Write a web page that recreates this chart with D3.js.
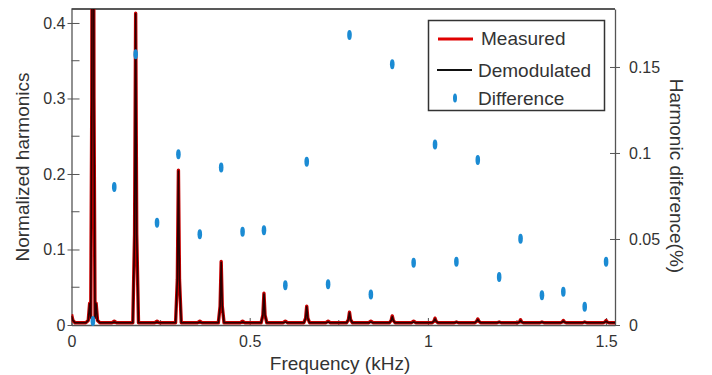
<!DOCTYPE html>
<html><head><meta charset="utf-8">
<script src="https://cdn.jsdelivr.net/npm/d3@7"></script>
<style>body{margin:0;background:#fff}svg{display:block}text{font-family:"Liberation Sans",Arial,sans-serif;fill:#333}</style>
</head><body>
<svg id="c" width="712" height="375"></svg>
<script>
// Spectrum (frequency in kHz, normalized amplitude)
const spectrumFreq = [0,0.004,0.010,0.040,0.047,0.051,0.054,0.057,0.0595,0.0605,0.063,0.066,0.069,0.073,0.080,
 0.114,0.120,0.126, 0.172,0.177,0.180,0.183,0.188, 0.234,0.240,0.246, 0.292,0.297,0.300,0.303,0.308,
 0.354,0.360,0.366, 0.412,0.417,0.420,0.423,0.428, 0.474,0.480,0.486, 0.532,0.537,0.540,0.543,0.548,
 0.594,0.600,0.606, 0.652,0.657,0.660,0.663,0.668, 0.714,0.720,0.726, 0.772,0.777,0.780,0.783,0.788,
 0.834,0.840,0.846, 0.892,0.897,0.900,0.903,0.908, 0.954,0.960,0.966, 1.012,1.017,1.020,1.023,1.028,
 1.074,1.080,1.086, 1.132,1.137,1.140,1.143,1.148, 1.194,1.200,1.206, 1.252,1.257,1.260,1.263,1.268,
 1.314,1.320,1.326, 1.372,1.377,1.380,1.383,1.388, 1.434,1.440,1.446, 1.492,1.497,1.500,1.503,1.508, 1.525];
const measuredAmp = [0.014,0.006,0.003,0.003,0.006,0.029,0.010,0.300,1.000,1.000,0.300,0.010,0.029,0.006,0.003,
 0.003,0.005,0.003, 0.003,0.120,0.413,0.120,0.003, 0.003,0.005,0.003, 0.003,0.060,0.205,0.060,0.003,
 0.003,0.005,0.003, 0.003,0.025,0.084,0.025,0.003, 0.003,0.005,0.003, 0.003,0.013,0.042,0.013,0.003,
 0.003,0.005,0.003, 0.003,0.009,0.025,0.009,0.003, 0.003,0.005,0.003, 0.003,0.007,0.017,0.007,0.003,
 0.003,0.005,0.003, 0.003,0.006,0.012,0.006,0.003, 0.003,0.005,0.003, 0.003,0.005,0.009,0.005,0.003,
 0.003,0.004,0.003, 0.003,0.005,0.008,0.005,0.003, 0.003,0.004,0.003, 0.003,0.004,0.007,0.004,0.003,
 0.003,0.004,0.003, 0.003,0.004,0.006,0.004,0.003, 0.003,0.004,0.003, 0.003,0.004,0.006,0.004,0.003, 0.003];
const demodAmp = [0.012,0.006,0.003,0.003,0.006,0.028,0.010,0.300,1.000,1.000,0.300,0.010,0.028,0.006,0.003,
 0.003,0.004,0.003, 0.003,0.120,0.412,0.120,0.003, 0.003,0.004,0.003, 0.003,0.060,0.204,0.060,0.003,
 0.003,0.004,0.003, 0.003,0.025,0.083,0.025,0.003, 0.003,0.004,0.003, 0.003,0.013,0.041,0.013,0.003,
 0.003,0.004,0.003, 0.003,0.009,0.024,0.009,0.003, 0.003,0.004,0.003, 0.003,0.007,0.016,0.007,0.003,
 0.003,0.004,0.003, 0.003,0.006,0.011,0.006,0.003, 0.003,0.004,0.003, 0.003,0.005,0.008,0.005,0.003,
 0.003,0.004,0.003, 0.003,0.005,0.007,0.005,0.003, 0.003,0.004,0.003, 0.003,0.004,0.006,0.004,0.003,
 0.003,0.004,0.003, 0.003,0.004,0.005,0.004,0.003, 0.003,0.004,0.003, 0.003,0.004,0.005,0.004,0.003, 0.003];
// Harmonic difference (%)
const diffFreq = [0.06,0.12,0.18,0.24,0.30,0.36,0.42,0.48,0.54,0.60,0.66,0.72,0.78,0.84,0.90,0.96,1.02,1.08,1.14,1.20,1.26,1.32,1.38,1.44,1.50];
const diffValue = [0.0023,0.0802,0.1574,0.0595,0.0992,0.0527,0.0915,0.0542,0.0551,0.0231,0.0949,0.0237,0.1686,0.0178,0.1516,0.0362,0.1050,0.0368,0.0959,0.0279,0.0502,0.0173,0.0194,0.0106,0.0368];
const xTicks = [0,0.5,1,1.5];
const xTickLabels = ["0","0.5","1","1.5"];
const yLeftTicks = [0,0.1,0.2,0.3,0.4];
const yLeftTickLabels = ["0","0.1","0.2","0.3","0.4"];
const yRightTicks = [0,0.05,0.1,0.15];
const yRightTickLabels = ["0","0.05","0.1","0.15"];
const legendLabels = ["Measured","Demodulated","Difference"];

const svg = d3.select("#c");
const L=71.5, R=615, T=9, B=325;
const x = d3.scaleLinear().domain([0,1.525]).range([L,R]);
const yL = d3.scaleLinear().domain([0,0.4185]).range([B,T]);
const yR = d3.scaleLinear().domain([0,0.1837]).range([B,T]);

svg.append("defs").append("clipPath").attr("id","clip").append("rect")
  .attr("x",L).attr("y",T).attr("width",R-L).attr("height",B-T+2);

const axisCol="#555";
// left axis
const gL = svg.append("g").attr("transform",`translate(${L},0)`)
  .call(d3.axisLeft(yL).tickValues(yLeftTicks).tickFormat((d,i)=>yLeftTickLabels[i]).tickSizeInner(-8).tickSizeOuter(0).tickPadding(6));
gL.selectAll(".tick line").attr("x1",-4).attr("x2",8);
gL.select(".domain").attr("stroke",axisCol).attr("stroke-width",1.3);
gL.selectAll(".tick line").attr("stroke",axisCol);
gL.selectAll(".tick text").attr("font-size",16).attr("x",-6).attr("fill","#333").style("font-family","Liberation Sans, Arial");
// left minor
svg.append("g").selectAll("line").data(d3.range(0.05,0.4,0.1)).join("line")
  .attr("x1",L).attr("x2",L+8).attr("y1",d=>yL(d)).attr("y2",d=>yL(d)).attr("stroke",axisCol);

// right axis
const gR = svg.append("g").attr("transform",`translate(${R},0)`)
  .call(d3.axisRight(yR).tickValues(yRightTicks).tickFormat((d,i)=>yRightTickLabels[i]).tickSizeOuter(0).tickSizeInner(5).tickPadding(9));
gR.selectAll(".tick line").attr("x1",-5).attr("x2",5).attr("stroke",axisCol);
gR.select(".domain").attr("stroke",axisCol).attr("stroke-width",1.3);
gR.selectAll(".tick text").attr("font-size",16).attr("fill","#333").style("font-family","Liberation Sans, Arial");

// bottom axis
const gB = svg.append("g").attr("transform",`translate(0,${B})`)
  .call(d3.axisBottom(x).tickValues(xTicks).tickFormat((d,i)=>xTickLabels[i]).tickSizeOuter(0).tickSizeInner(-7).tickPadding(10));
gB.select(".domain").attr("stroke",axisCol).attr("stroke-width",1.3);
gB.selectAll(".tick line").attr("stroke",axisCol);
gB.selectAll(".tick text").attr("font-size",16).attr("fill","#333").attr("y",11).style("font-family","Liberation Sans, Arial");
svg.append("g").selectAll("line").data([0.25,0.75,1.25]).join("line")
  .attr("x1",d=>x(d)).attr("x2",d=>x(d)).attr("y1",B).attr("y2",B-5).attr("stroke",axisCol);

// top border
svg.append("line").attr("x1",L).attr("x2",R).attr("y1",T).attr("y2",T).attr("stroke","#222").attr("stroke-width",1.5);

// spectrum lines
const idx = d3.range(spectrumFreq.length);
const lineM = d3.line().x(i=>x(spectrumFreq[i])).y(i=>yL(measuredAmp[i]));
const lineD = d3.line().x(i=>x(spectrumFreq[i])).y(i=>yL(demodAmp[i]));
const gLines = svg.append("g").attr("clip-path","url(#clip)");
gLines.append("path").datum(idx).attr("d",lineM).attr("fill","none").attr("stroke","#c40000").attr("stroke-width",3.4).attr("stroke-linejoin","round");
gLines.append("path").datum(idx).attr("d",lineD).attr("fill","none").attr("stroke","#2a0000").attr("stroke-width",1.6).attr("stroke-linejoin","round");

// difference markers
svg.append("g").selectAll("ellipse").data(diffFreq).join("ellipse")
  .attr("cx",d=>x(d)).attr("cy",(d,i)=>yR(diffValue[i])).attr("rx",2.3).attr("ry",5).attr("fill","#1b8bd3");

// axis titles
svg.append("text").attr("x",340).attr("y",370).attr("text-anchor","middle").attr("font-size",19).text("Frequency (kHz)");
svg.append("text").attr("transform","translate(29,167) rotate(-90)").attr("text-anchor","middle").attr("font-size",19).text("Normalized harmonics");
svg.append("text").attr("transform","translate(670,176) rotate(90)").attr("text-anchor","middle").attr("font-size",19).text("Harmonic diference(%)");

// legend
const lg = svg.append("g");
lg.append("rect").attr("x",428.5).attr("y",20.5).attr("width",176).attr("height",90).attr("fill","#fff").attr("stroke","#333").attr("stroke-width",1.5);
lg.append("line").attr("x1",438).attr("x2",473).attr("y1",39).attr("y2",39).attr("stroke","#e00000").attr("stroke-width",3);
lg.append("line").attr("x1",437).attr("x2",472).attr("y1",70).attr("y2",70).attr("stroke","#111").attr("stroke-width",2);
lg.append("ellipse").attr("cx",455).attr("cy",98).attr("rx",2).attr("ry",4.5).attr("fill","#1b8bd3");
lg.selectAll("text.lt").data(legendLabels).join("text").attr("class","lt")
  .attr("x",(d,i)=>i===0?481:478).attr("y",(d,i)=>[45,77,105][i]).attr("font-size",19).text(d=>d);
</script>
</body></html>
